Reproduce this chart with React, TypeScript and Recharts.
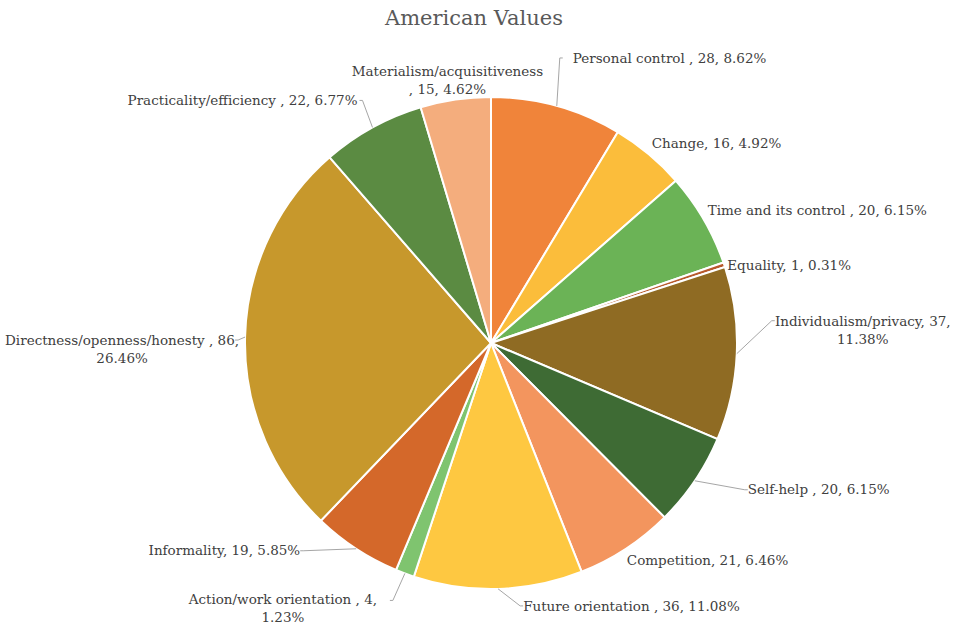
import React from "react";
import { Cell, Pie, PieChart } from "recharts";

const CATEGORIES = [
  "Personal control ",
  "Change",
  "Time and its control ",
  "Equality",
  "Individualism/privacy",
  "Self-help ",
  "Competition",
  "Future orientation ",
  "Action/work orientation ",
  "Informality",
  "Directness/openness/honesty ",
  "Practicality/efficiency ",
  "Materialism/acquisitiveness ",
];

const COUNTS = [28, 16, 20, 1, 37, 20, 21, 36, 4, 19, 86, 22, 15];

const COLORS = [
  "#F0843A", // personal control
  "#FBBD3B", // change
  "#6BB356", // time
  "#B8592C", // equality
  "#8F6B23", // individualism
  "#3E6B34", // self-help
  "#F3955E", // competition
  "#FEC841", // future
  "#7FC46F", // action
  "#D4682A", // informality
  "#C7982C", // directness
  "#5B8B42", // practicality
  "#F4AD7D", // materialism
];

const FONT = "DejaVu Serif";

const TOTAL = COUNTS.reduce((a, b) => a + b, 0);

const data = CATEGORIES.map((name, i) => ({ name, value: COUNTS[i] }));

// label placement (same order as CATEGORIES), offsets from the slice's outer arc at midAngle
type LabelLayout = {
  dx: number;
  dy: number;
  anchor: "start" | "middle" | "end";
  elbow?: [number, number];
  wrap?: "beforeValue" | "beforePct";
};

const LABEL_LAYOUT: LabelLayout[] = [
  { dx: 16, dy: -48, anchor: "start", elbow: [3, -48] }, // personal control
  { dx: 3, dy: -11, anchor: "start" }, // change
  { dx: 4, dy: -9, anchor: "start" }, // time
  { dx: 3, dy: 0, anchor: "start" }, // equality
  { dx: 126, dy: -33, anchor: "middle", elbow: [35, -33], wrap: "beforePct" }, // individualism
  { dx: 53, dy: 8, anchor: "start", elbow: [50, 9] }, // self-help
  { dx: 1, dy: 11, anchor: "start" }, // competition
  { dx: 25, dy: 17, anchor: "start", elbow: [22, 17] }, // future
  { dx: -122, dy: 26, anchor: "middle", elbow: [-12, 27], wrap: "beforePct" }, // action
  { dx: -56, dy: 1, anchor: "end", elbow: [-53, 2] }, // informality
  { dx: -123, dy: 3, anchor: "middle", elbow: [-7, 3], wrap: "beforePct" }, // directness
  { dx: -15, dy: -27, anchor: "end", elbow: [-10, -27] }, // practicality
  { dx: -8, dy: -29, anchor: "middle", wrap: "beforeValue" }, // materialism
];

const RAD = Math.PI / 180;

const renderLabel = (props: any) => {
  const { cx, cy, midAngle, outerRadius, index, name, value } = props;
  const layout = LABEL_LAYOUT[index];
  const ax = cx + outerRadius * Math.cos(-midAngle * RAD);
  const ay = cy + outerRadius * Math.sin(-midAngle * RAD);
  const pct = ((value / TOTAL) * 100).toFixed(2) + "%";

  let lines: string[];
  if (layout.wrap === "beforeValue") lines = [name.trim(), `, ${value}, ${pct}`];
  else if (layout.wrap === "beforePct") lines = [`${name}, ${value},`, pct];
  else lines = [`${name}, ${value}, ${pct}`];

  const tx = ax + layout.dx;
  const ty = ay + layout.dy;

  let leader = null;
  if (layout.elbow) {
    const ex = ax + layout.elbow[0];
    const ey = ay + layout.elbow[1];
    const dir = layout.elbow[0] >= 0 ? 3 : -3;
    leader = (
      <path
        d={`M${ax},${ay}L${ex},${ey}L${ex + dir},${ey}`}
        stroke="#A6A6A6"
        strokeWidth={1}
        fill="none"
      />
    );
  }

  return (
    <g key={`label-${index}`}>
      {leader}
      {lines.map((line, i) => (
        <text
          key={i}
          x={tx}
          y={ty + i * 18}
          textAnchor={layout.anchor}
          dominantBaseline="central"
          fill="#404040"
          fontFamily={FONT}
          fontSize={13.5}
        >
          {line}
        </text>
      ))}
    </g>
  );
};

export default function App() {
  return (
    <div
      style={{
        position: "absolute",
        left: 0,
        top: 0,
        width: 959,
        height: 628,
        background: "#fff",
      }}
    >
      <div
        style={{
          position: "absolute",
          left: 0,
          top: 6,
          width: 948,
          textAlign: "center",
          fontFamily: FONT,
          fontSize: 21,
          color: "#595959",
        }}
      >
        American Values
      </div>
      <PieChart
        width={959}
        height={628}
        margin={{ top: 0, right: 0, bottom: 0, left: 0 }}
        style={{ position: "absolute", left: 0, top: 0 }}
      >
        <Pie
          data={data}
          dataKey="value"
          nameKey="name"
          cx={491}
          cy={343}
          outerRadius={246}
          startAngle={90}
          endAngle={-270}
          stroke="#FFFFFF"
          strokeWidth={2}
          label={renderLabel}
          labelLine={false}
          isAnimationActive={false}
        >
          {data.map((entry, i) => (
            <Cell key={`cell-${i}`} fill={COLORS[i]} />
          ))}
        </Pie>
      </PieChart>
    </div>
  );
}
